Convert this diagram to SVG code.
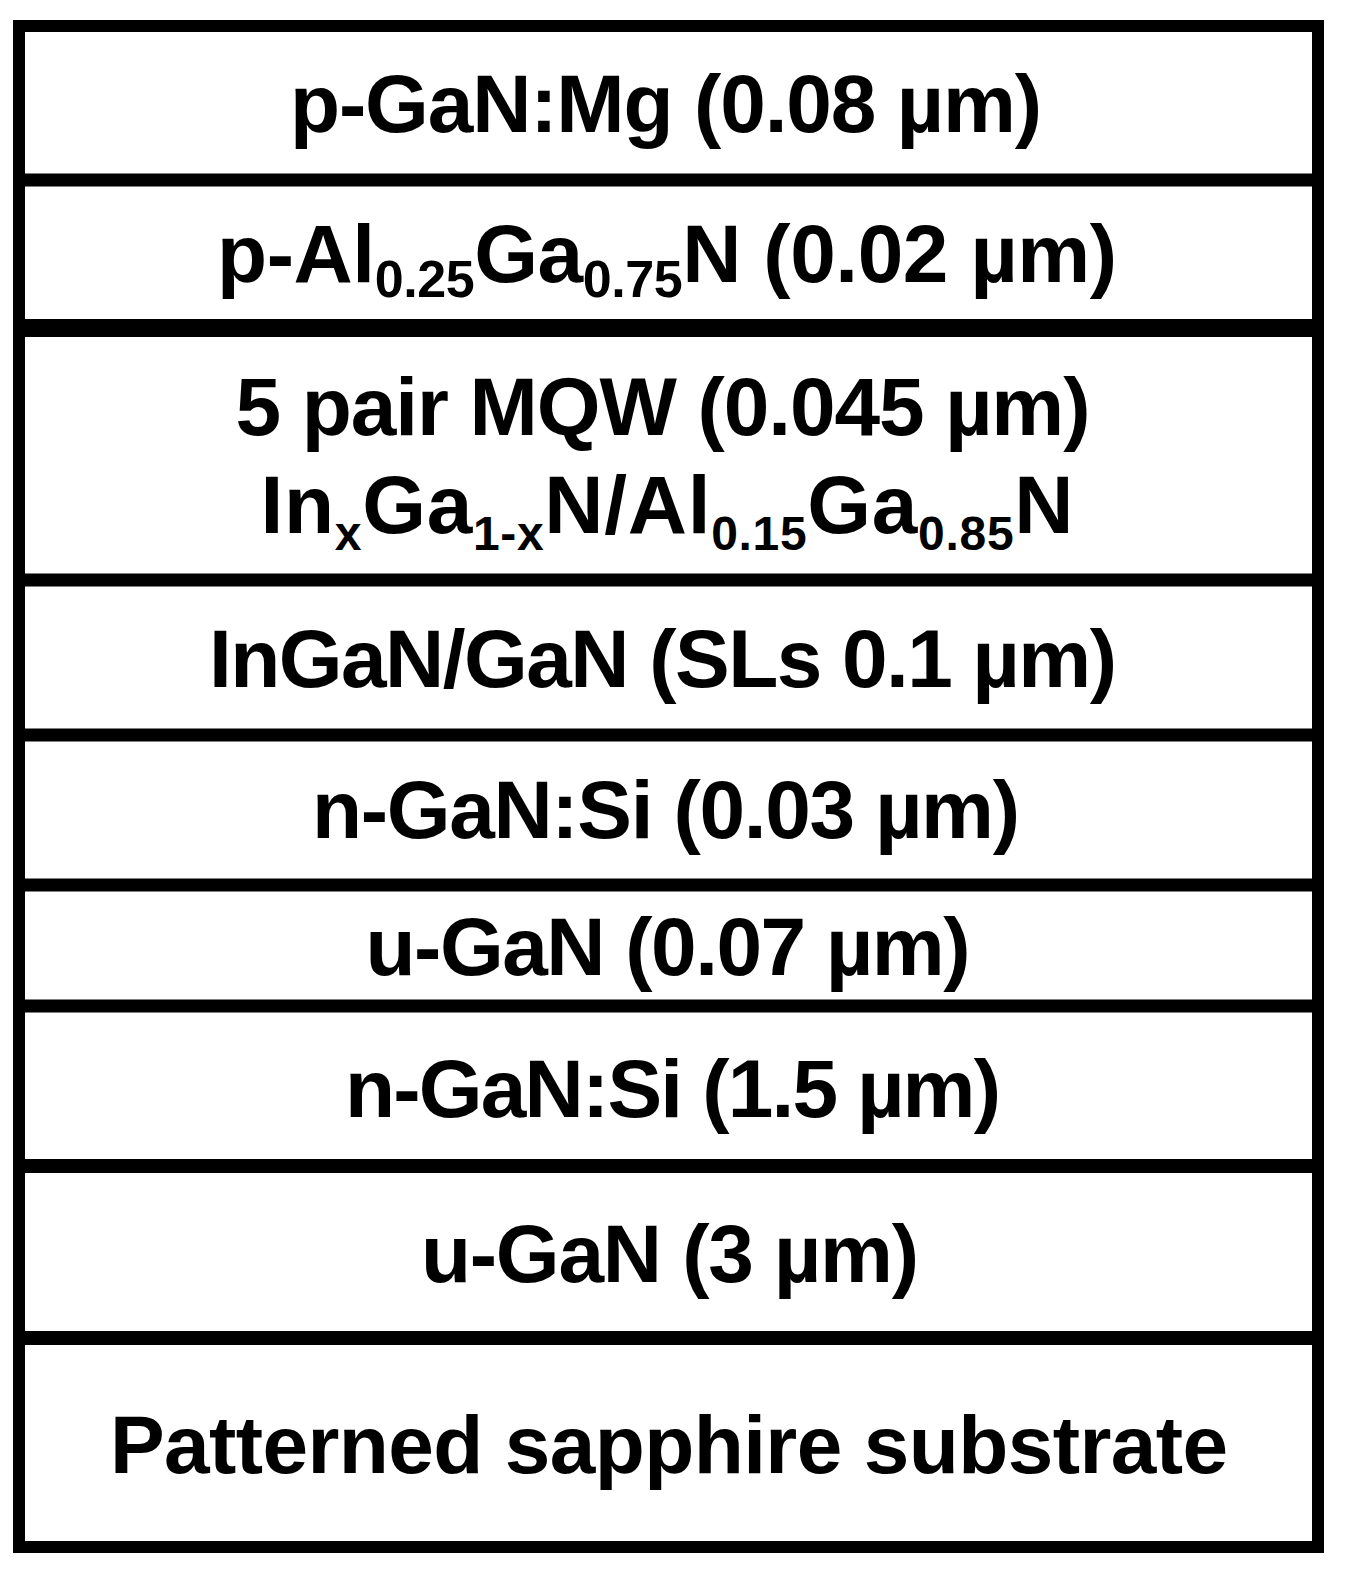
<svg xmlns="http://www.w3.org/2000/svg" width="1345" height="1569" viewBox="0 0 1345 1569">
<style>
.t{font-family:"Liberation Sans",Arial,sans-serif;font-weight:bold;font-size:82px;fill:#000;text-anchor:middle}
.s2{font-size:52px}
.s3{font-size:48px}
.sep{stroke:#000;stroke-width:13}
</style>
<rect x="0" y="0" width="1345" height="1569" fill="#fff"/>
<g id="frame">
<rect x="19" y="26" width="1299" height="1521" fill="none" stroke="#000" stroke-width="12"/>
<line class="sep" x1="13" y1="180" x2="1324" y2="180"/>
<line class="sep" x1="13" y1="328" x2="1324" y2="328" style="stroke-width:18"/>
<line class="sep" x1="13" y1="580" x2="1324" y2="580"/>
<line class="sep" x1="13" y1="735" x2="1324" y2="735"/>
<line class="sep" x1="13" y1="885" x2="1324" y2="885"/>
<line class="sep" x1="13" y1="1006" x2="1324" y2="1006"/>
<line class="sep" x1="13" y1="1166" x2="1324" y2="1166" style="stroke-width:14"/>
<line class="sep" x1="13" y1="1338" x2="1324" y2="1338" style="stroke-width:14"/>
</g>
<g id="layer1"><text class="t" x="666" y="132" textLength="752" lengthAdjust="spacing">p-GaN:Mg (0.08 µm)</text></g>
<g id="layer2"><text class="t" x="667" y="282" textLength="900" lengthAdjust="spacing">p-Al<tspan class="s2" dy="15">0.25</tspan><tspan dy="-15">Ga</tspan><tspan class="s2" dy="15">0.75</tspan><tspan dy="-15">N (0.02 µm)</tspan></text></g>
<g id="layer3">
<text class="t" x="663" y="435" textLength="855" lengthAdjust="spacing">5 pair MQW (0.045 µm)</text>
<text class="t" x="667" y="533" textLength="813" lengthAdjust="spacing">In<tspan class="s3" dy="17">x</tspan><tspan dy="-17">Ga</tspan><tspan class="s3" dy="17">1-x</tspan><tspan dy="-17">N/Al</tspan><tspan class="s3" dy="17">0.15</tspan><tspan dy="-17">Ga</tspan><tspan class="s3" dy="17">0.85</tspan><tspan dy="-17">N</tspan></text>
</g>
<g id="layer4"><text class="t" x="663" y="687" textLength="908" lengthAdjust="spacing">InGaN/GaN (SLs 0.1 µm)</text></g>
<g id="layer5"><text class="t" x="666" y="838" textLength="708" lengthAdjust="spacing">n-GaN:Si (0.03 µm)</text></g>
<g id="layer6"><text class="t" x="668" y="975" textLength="605" lengthAdjust="spacing">u-GaN (0.07 µm)</text></g>
<g id="layer7"><text class="t" x="673" y="1117" textLength="656" lengthAdjust="spacing">n-GaN:Si (1.5 µm)</text></g>
<g id="layer8"><text class="t" x="670" y="1282" textLength="498" lengthAdjust="spacing">u-GaN (3 µm)</text></g>
<g id="layer9"><text class="t" x="669" y="1473" textLength="1118" lengthAdjust="spacing">Patterned sapphire substrate</text></g>
</svg>
